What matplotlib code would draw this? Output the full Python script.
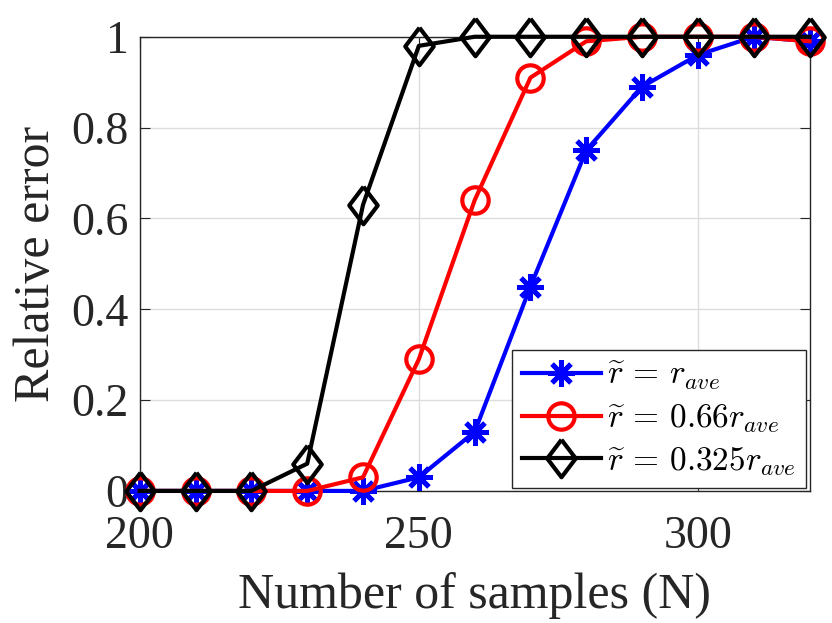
import matplotlib
matplotlib.use("Agg")
import matplotlib.pyplot as plt

plt.rcParams['font.family'] = ['Liberation Serif', 'DejaVu Serif']
plt.rcParams['mathtext.fontset'] = 'cm'

# data
n_samples = [200, 210, 220, 230, 240, 250, 260, 270, 280, 290, 300, 310, 320]
err_r_ave = [0, 0, 0, 0, 0, 0.03, 0.13, 0.45, 0.75, 0.89, 0.96, 1.0, 0.99]
err_066 = [0, 0, 0, 0, 0.03, 0.29, 0.64, 0.91, 0.99, 1.0, 1.0, 1.0, 0.99]
err_0325 = [0, 0, 0, 0.06, 0.63, 0.98, 1.0, 1.0, 1.0, 1.0, 1.0, 1.0, 1.0]

labels = [r'$\widetilde{r}\,=\,r_{ave}$',
          r'$\widetilde{r}\,=\,0.66r_{ave}$',
          r'$\widetilde{r}\,=\,0.325r_{ave}$']

diamond = [(0, 1), (0.76, 0), (0, -1), (-0.76, 0), (0, 1)]

fig = plt.figure(figsize=(8.32, 6.23), dpi=100)
ax = fig.add_axes([0.168, 0.212, 0.805, 0.729])

ax.plot(n_samples, err_r_ave, color='#0000ff', lw=3, marker=(8, 2, 0),
        markersize=19, markeredgewidth=3.5, label=labels[0], clip_on=False, zorder=3)
ax.plot(n_samples, err_066, color='#ff0000', lw=3, marker='o',
        markersize=19, markeredgewidth=3, markerfacecolor='none', label=labels[1],
        clip_on=False, zorder=4)
ax.plot(n_samples, err_0325, color='black', lw=3, marker=diamond,
        markersize=27, markeredgewidth=3, markerfacecolor='none', label=labels[2],
        clip_on=False, zorder=5)

ax.set_xlim(200, 320)
ax.set_ylim(0, 1)
ax.set_xticks([200, 250, 300])
ax.set_yticks([0, 0.2, 0.4, 0.6, 0.8, 1])
ax.set_yticklabels(['0', '0.2', '0.4', '0.6', '0.8', '1'])
ax.grid(True, color='#dcdcdc', linewidth=1)
ax.set_axisbelow(True)
ax.tick_params(direction='in', top=True, right=True, length=7,
               labelsize=33, colors='#262626')
ax.tick_params(axis='y', pad=8)
ax.tick_params(axis='x', pad=18)
for s in ax.spines.values():
    s.set_color('#262626')
    s.set_linewidth(1)

ax.set_xlabel('Number of samples (N)', fontsize=36, color='#262626', labelpad=10)
ax.set_ylabel('Relative error', fontsize=36, color='#262626', labelpad=8)

leg = ax.legend(loc='lower right', fontsize=24, frameon=True, fancybox=False,
                edgecolor='#262626', framealpha=1, handlelength=2.35,
                borderpad=0.3, labelspacing=0.3, handletextpad=0.2,
                borderaxespad=0.1)
leg.get_frame().set_linewidth(1)
leg.set_zorder(10)

fig.savefig('out.png', dpi=100)
